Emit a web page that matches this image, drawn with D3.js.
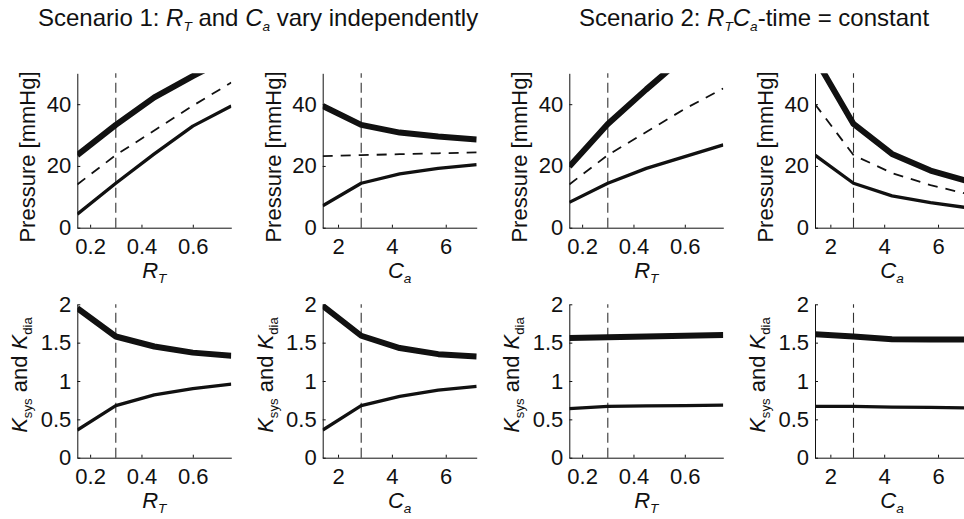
<!DOCTYPE html>
<html>
<head>
<meta charset="utf-8">
<script src="https://cdn.jsdelivr.net/npm/d3@7"></script>
<style>
  html, body { margin: 0; padding: 0; background: #fff; }
  svg { display: block; font-family: "Liberation Sans", Arial, Helvetica, sans-serif; }
</style>
</head>
<body>
<div id="chart"></div>
<script>
// ---------- data ----------
const rtValues = [0.15, 0.30, 0.45, 0.60, 0.75];
const caValues = [1.43, 2.86, 4.29, 5.72, 7.15];
const rtRef = 0.30;
const caRef = 2.86;

// Scenario 1, varying R_T
const s1RtSys  = [23.5, 33.3, 42.2, 49.1, 55.5];
const s1RtMean = [14.0, 23.5, 31.5, 39.5, 47.0];
const s1RtDia  = [4.4, 14.4, 23.9, 32.9, 39.4];
// Scenario 1, varying C_a
const s1CaSys  = [39.4, 33.3, 30.8, 29.5, 28.6];
const s1CaMean = [23.2, 23.5, 23.8, 24.1, 24.4];
const s1CaDia  = [7.1, 14.4, 17.4, 19.2, 20.4];
// Scenario 2, varying R_T
const s2RtSys  = [19.8, 33.6, 44.8, 55.5, 65.0];
const s2RtMean = [14.0, 23.5, 31.0, 38.5, 45.1];
const s2RtDia  = [8.2, 14.4, 19.2, 23.0, 26.8];
// Scenario 2, varying C_a
const s2CaSys  = [55.0, 33.6, 23.9, 18.5, 14.9];
const s2CaMean = [40.0, 23.5, 17.7, 13.8, 10.8];
const s2CaDia  = [23.5, 14.4, 10.3, 8.1, 6.4];

// K factors
const s1RtKsys = [1.95, 1.58, 1.45, 1.37, 1.33];
const s1RtKdia = [0.36, 0.68, 0.82, 0.90, 0.96];
const s1CaKsys = [1.98, 1.59, 1.43, 1.35, 1.32];
const s1CaKdia = [0.36, 0.68, 0.80, 0.88, 0.93];
const s2RtKsys = [1.56, 1.57, 1.58, 1.59, 1.60];
const s2RtKdia = [0.64, 0.67, 0.675, 0.68, 0.685];
const s2CaKsys = [1.61, 1.58, 1.545, 1.54, 1.54];
const s2CaKdia = [0.67, 0.67, 0.66, 0.655, 0.65];

const rtTicks = [0.2, 0.4, 0.6];
const caTicks = [2, 4, 6];
const pressureTicks = [0, 20, 40];
const kTicks = [0, 0.5, 1, 1.5, 2];

const titles = ["Scenario 1", "Scenario 2"];

// ---------- layout ----------
const W = 964, H = 519;
const panelLefts = [77.3, 322.7, 569.3, 815];
const panelW = 154;
const topRow = { y0: 227.7, y1: 73.3 };
const botRow = { y0: 457.7, y1: 304.3 };
const FS = 22;

const svg = d3.select("#chart").append("svg").attr("width", W).attr("height", H);
const defs = svg.append("defs");

// titles
function subText(sel, parts) {
  parts.forEach(p => {
    const t = sel.append("tspan").text(p.t);
    if (p.i) t.attr("font-style", "italic");
    if (p.sub) t.attr("font-size", FS * 0.62 + "px").attr("dy", p.dy);
    else if (p.dy) t.attr("dy", p.dy);
  });
}
const t1 = svg.append("text").attr("x", 38).attr("y", 25.5).attr("font-size", "24px").attr("fill", "#111");
subText(t1, [
  {t: titles[0] + ": "}, {t: "R", i: true}, {t: "T", i: true, sub: true, dy: 5},
  {t: " and ", dy: -5}, {t: "C", i: true}, {t: "a", i: true, sub: true, dy: 5},
  {t: " vary independently", dy: -5}
]);
const t2 = svg.append("text").attr("x", 579).attr("y", 25.5).attr("font-size", "24px").attr("fill", "#111");
subText(t2, [
  {t: titles[1] + ": "}, {t: "R", i: true}, {t: "T", i: true, sub: true, dy: 5},
  {t: "C", i: true, dy: -5}, {t: "a", i: true, sub: true, dy: 5},
  {t: "-time = constant", dy: -5}
]);

const panels = [
  // top row
  { col: 0, row: "top", x: rtValues, ref: rtRef, xt: rtTicks, xl: ["R", "T"], sys: s1RtSys, mean: s1RtMean, dia: s1RtDia },
  { col: 1, row: "top", x: caValues, ref: caRef, xt: caTicks, xl: ["C", "a"], sys: s1CaSys, mean: s1CaMean, dia: s1CaDia },
  { col: 2, row: "top", x: rtValues, ref: rtRef, xt: rtTicks, xl: ["R", "T"], sys: s2RtSys, mean: s2RtMean, dia: s2RtDia },
  { col: 3, row: "top", x: caValues, ref: caRef, xt: caTicks, xl: ["C", "a"], sys: s2CaSys, mean: s2CaMean, dia: s2CaDia },
  // bottom row
  { col: 0, row: "bot", x: rtValues, ref: rtRef, xt: rtTicks, xl: ["R", "T"], sys: s1RtKsys, dia: s1RtKdia },
  { col: 1, row: "bot", x: caValues, ref: caRef, xt: caTicks, xl: ["C", "a"], sys: s1CaKsys, dia: s1CaKdia },
  { col: 2, row: "bot", x: rtValues, ref: rtRef, xt: rtTicks, xl: ["R", "T"], sys: s2RtKsys, dia: s2RtKdia },
  { col: 3, row: "bot", x: caValues, ref: caRef, xt: caTicks, xl: ["C", "a"], sys: s2CaKsys, dia: s2CaKdia },
];

panels.forEach((p, i) => {
  const left = panelLefts[p.col];
  const rowG = p.row === "top" ? topRow : botRow;
  const x = d3.scaleLinear().domain(d3.extent(p.x)).range([left, left + panelW]);
  const y = d3.scaleLinear().domain(p.row === "top" ? [0, 50] : [0, 2]).range([rowG.y0, rowG.y1]);
  const g = svg.append("g");

  const clipId = "clip" + i;
  defs.append("clipPath").attr("id", clipId).append("rect")
    .attr("x", left).attr("y", rowG.y1).attr("width", panelW).attr("height", rowG.y0 - rowG.y1);

  // reference dashed vertical line
  g.append("line")
    .attr("x1", x(p.ref)).attr("x2", x(p.ref))
    .attr("y1", y.range()[0]).attr("y2", y.range()[1])
    .attr("stroke", "#333").attr("stroke-width", 1.1).attr("stroke-dasharray", "10,5");

  const line = d3.line().x((d, j) => x(p.x[j])).y(d => y(d));
  const lg = g.append("g").attr("clip-path", `url(#${clipId})`);
  if (p.mean) {
    lg.append("path").attr("d", line(p.mean)).attr("fill", "none")
      .attr("stroke", "#111").attr("stroke-width", 1.8).attr("stroke-dasharray", "10,8");
  }
  lg.append("path").attr("d", line(p.dia)).attr("fill", "none")
    .attr("stroke", "#111").attr("stroke-width", 3.3).attr("stroke-linejoin", "round");
  lg.append("path").attr("d", line(p.sys)).attr("fill", "none")
    .attr("stroke", "#111").attr("stroke-width", 6).attr("stroke-linejoin", "round");

  // axes
  const xAxis = d3.axisBottom(x).tickValues(p.xt)
    .tickFormat(p.xt === rtTicks ? d3.format(".1f") : d3.format("d"))
    .tickSizeInner(-3).tickSizeOuter(0).tickPadding(10.5);
  const yAxis = d3.axisLeft(y).tickValues(p.row === "top" ? pressureTicks : kTicks)
    .tickFormat(d => String(d))
    .tickSizeInner(-3).tickSizeOuter(0).tickPadding(6);

  const gx = g.append("g").attr("transform", `translate(0,${rowG.y0})`).call(xAxis);
  const gy = g.append("g").attr("transform", `translate(${left},0)`).call(yAxis);
  [gx, gy].forEach(a => {
    a.attr("font-family", null).attr("font-size", null);
    a.selectAll("text").attr("font-size", FS + "px").attr("fill", "#111");
    a.selectAll("path,line").attr("stroke", "#111").attr("stroke-width", 1);
  });

  // x label
  const xl = g.append("text").attr("x", left + panelW / 2).attr("y", rowG.y0 + 50)
    .attr("text-anchor", "middle").attr("font-size", FS + "px").attr("fill", "#111");
  xl.append("tspan").attr("font-style", "italic").text(p.xl[0]);
  xl.append("tspan").attr("font-style", "italic").attr("font-size", FS * 0.62 + "px").attr("dy", 5).text(p.xl[1]);

  // y label
  if (p.row === "top") {
    g.append("text").attr("transform", `translate(${left - 42},157) rotate(-90)`)
      .attr("text-anchor", "middle").attr("font-size", FS + "px").attr("fill", "#111")
      .text("Pressure [mmHg]");
  } else {
    const yl = g.append("text").attr("transform", `translate(${left - 50},375) rotate(-90)`)
      .attr("text-anchor", "middle").attr("font-size", FS + "px").attr("fill", "#111");
    yl.append("tspan").attr("font-style", "italic").text("K");
    yl.append("tspan").attr("font-size", FS * 0.6 + "px").attr("dy", 5).text("sys");
    yl.append("tspan").attr("dy", -5).text(" and ");
    yl.append("tspan").attr("font-style", "italic").text("K");
    yl.append("tspan").attr("font-size", FS * 0.6 + "px").attr("dy", 5).text("dia");
  }
});
</script>
</body>
</html>
